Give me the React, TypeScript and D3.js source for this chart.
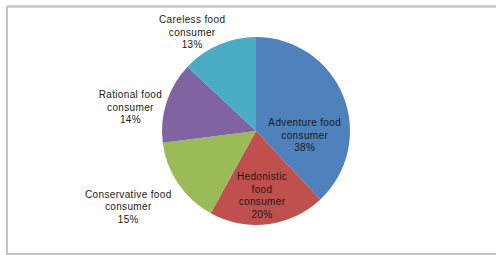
import { useEffect, useRef } from 'react';
import * as d3 from 'd3';

// consumer segments, clockwise from 12 o'clock
const segments = [
  ['Adventure food', 'consumer'],
  ['Hedonistic', 'food', 'consumer'],
  ['Conservative food', 'consumer'],
  ['Rational food', 'consumer'],
  ['Careless food', 'consumer'],
];
const shares = [38, 20, 15, 14, 13];
const colors = ['#4F81BD', '#C0504D', '#9BBB59', '#8064A2', '#4BACC6'];

// label placement (excel "best fit"), polar: degrees from top, fraction of radius
const labelAngle = [94.7, 174.7, 239.3, 280.8, 327.1];
const labelDist = [0.52, 0.69, 1.58, 1.36, 1.25];

const App = () => {
  const svgRef = useRef<SVGSVGElement>(null);

  useEffect(() => {
    const width = 496;
    const height = 255;
    const cx = 256;
    const cy = 131;
    const radius = 94;

    const svg = d3.select(svgRef.current);
    svg.selectAll('*').remove();

    // frame
    svg.append('rect').attr('width', width).attr('height', height).attr('fill', '#fff');
    svg.append('line').attr('x1', 7).attr('x2', width).attr('y1', 6.5).attr('y2', 6.5)
      .attr('stroke', '#c4c4c4').attr('stroke-width', 2.5);
    svg.append('line').attr('x1', 7).attr('x2', 7).attr('y1', 6).attr('y2', height)
      .attr('stroke', '#c4c4c4').attr('stroke-width', 2);
    svg.append('line').attr('x1', 7).attr('x2', width).attr('y1', 254).attr('y2', 254)
      .attr('stroke', '#c4c4c4').attr('stroke-width', 2);

    const data = shares.map((v, i) => ({ name: segments[i], value: v, i }));

    const pie = d3.pie<any>().value(d => d.value).sort(null);
    const arc = d3.arc<any>().innerRadius(0).outerRadius(radius);

    const g = svg.append('g').attr('transform', `translate(${cx},${cy})`);

    g.selectAll('path')
      .data(pie(data))
      .join('path')
      .attr('d', arc)
      .attr('fill', d => colors[d.data.i]);

    const lineH = 12.5;
    const labels = g.selectAll('g.lbl')
      .data(data)
      .join('g')
      .attr('class', 'lbl')
      .attr('transform', d => {
        const [x, y] = d3.pointRadial(labelAngle[d.i] * Math.PI / 180, labelDist[d.i] * radius);
        return `translate(${x},${y})`;
      });

    labels.each(function (d) {
      const lines = [...d.name, `${d.value}%`];
      const top = -((lines.length - 1) * lineH) / 2;
      d3.select(this).selectAll('text')
        .data(lines)
        .join('text')
        .attr('text-anchor', 'middle')
        .attr('dy', '0.35em')
        .attr('y', (_, k) => top + k * lineH)
        .attr('fill', '#1a1a1a')
        .style('font-family', 'Liberation Sans, Arial, sans-serif')
        .style('font-size', '10px')
        .style('letter-spacing', '0.35px')
        .text(t => t);
    });
  }, []);

  return (
    <svg ref={svgRef} width={496} height={255}
      style={{ position: 'absolute', left: 0, top: 0, display: 'block' }} />
  );
};

export default App;
